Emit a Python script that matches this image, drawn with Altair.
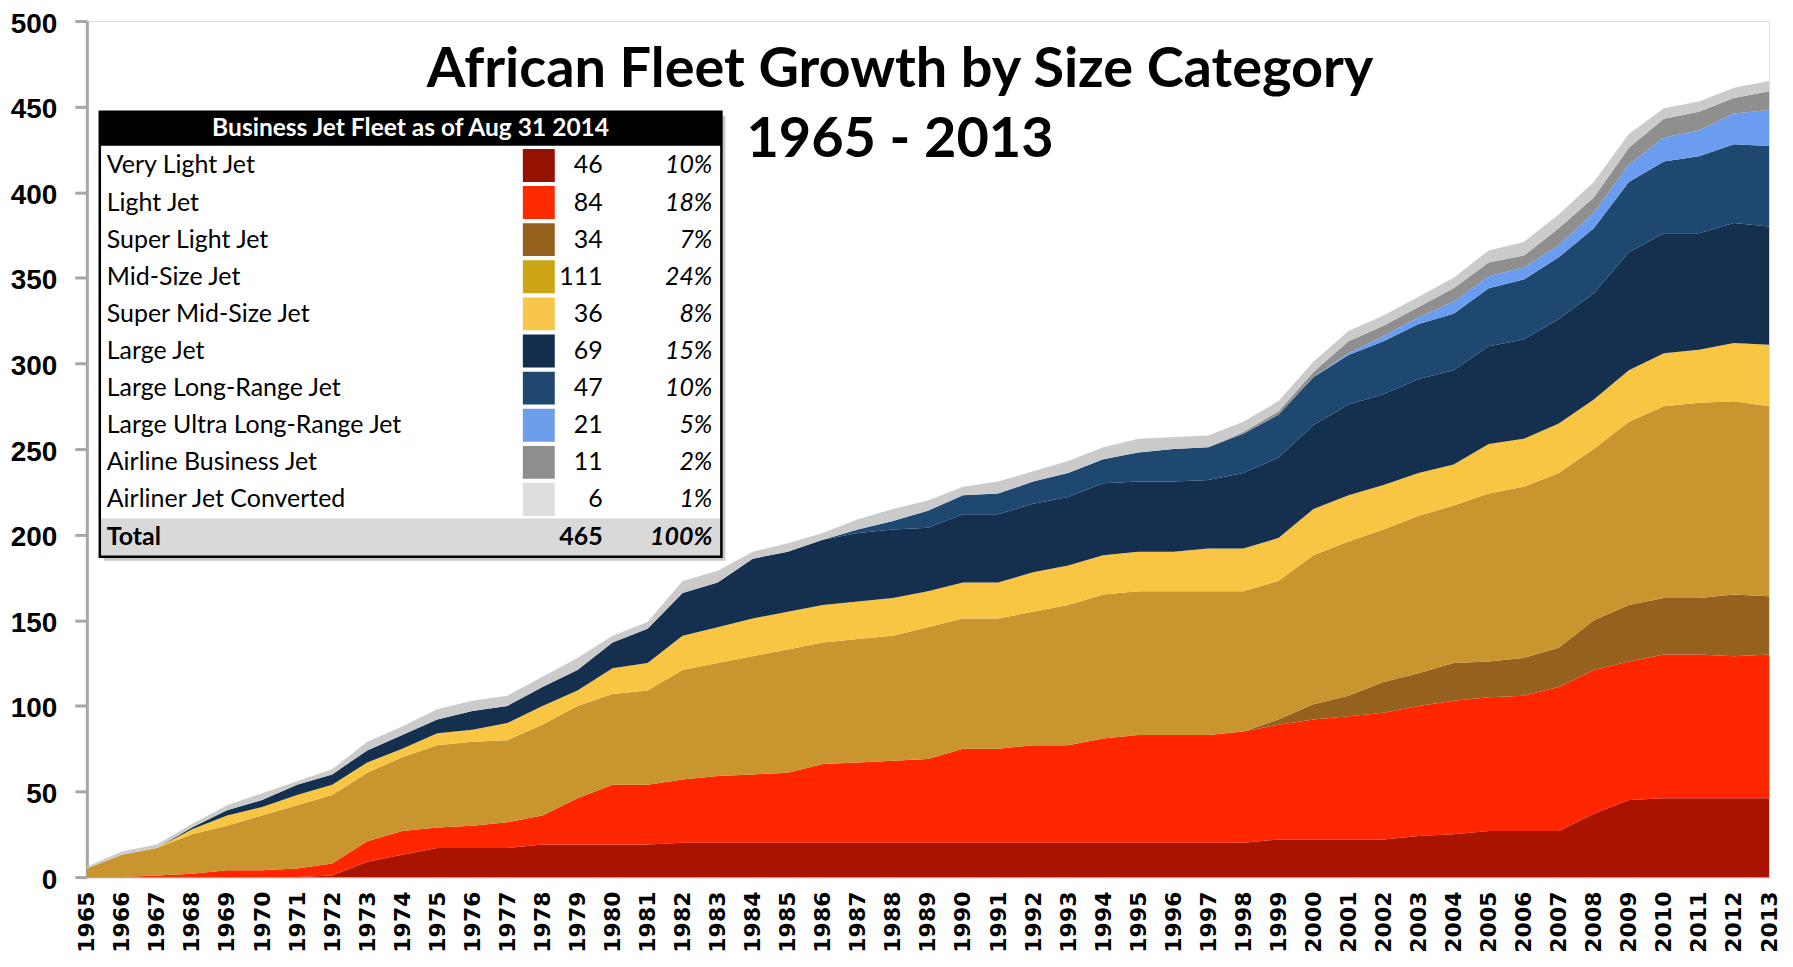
import altair as alt
import pandas as pd

years = list(range(1965, 2014))

series_names = [
    "Very Light Jet", "Light Jet", "Super Light Jet", "Mid-Size Jet",
    "Super Mid-Size Jet", "Large Jet", "Large Long-Range Jet",
    "Large Ultra Long-Range Jet", "Airline Business Jet", "Airliner Jet Converted",
]
area_colors = ["#A91400", "#FF2600", "#95611E", "#C9952F", "#F8C643",
               "#15304F", "#1F4870", "#6A9CF0", "#8F8F8F", "#CBCBCB"]
swatch_colors = ["#951200", "#FF2A00", "#95611E", "#CBA515", "#F8C64B",
                 "#142D4C", "#1F4770", "#6D9EEB", "#8E8E8E", "#DEDEDE"]

very_light = [0, 0, 0, 0, 0, 0, 0, 1, 9, 13, 17, 17, 17, 19, 19, 19, 19, 20, 20, 20,
              20, 20, 20, 20, 20, 20, 20, 20, 20, 20, 20, 20, 20, 20, 22, 22, 22, 22, 24, 25,
              27, 27, 27, 37, 45, 46, 46, 46, 46]
light = [0, 0, 1, 2, 4, 4, 5, 7, 12, 14, 12, 13, 15, 17, 27, 35, 35, 37, 39, 40,
         41, 46, 47, 48, 49, 55, 55, 57, 57, 61, 63, 63, 63, 65, 67, 70, 72, 74, 76, 78,
         78, 79, 84, 84, 81, 84, 84, 83, 84]
super_light = [0, 0, 0, 0, 0, 0, 0, 0, 0, 0, 0, 0, 0, 0, 0, 0, 0, 0, 0, 0,
               0, 0, 0, 0, 0, 0, 0, 0, 0, 0, 0, 0, 0, 0, 3, 9, 12, 18, 19, 22,
               21, 22, 23, 29, 33, 33, 33, 36, 34]
mid_size = [5, 13, 16, 23, 26, 32, 37, 40, 40, 43, 48, 49, 48, 53, 54, 53, 55, 64, 66, 69,
            72, 71, 72, 73, 77, 76, 76, 78, 82, 84, 84, 84, 84, 82, 81, 87, 90, 89, 92, 92,
            98, 100, 102, 100, 107, 112, 114, 113, 111]
super_mid = [0, 0, 0, 3, 6, 5, 6, 6, 6, 5, 7, 7, 10, 11, 9, 15, 16, 20, 21, 22,
             22, 22, 22, 22, 21, 21, 21, 23, 23, 23, 23, 23, 25, 25, 25, 27, 27, 26, 25, 24,
             29, 28, 29, 29, 30, 31, 31, 34, 36]
large = [0, 0, 0, 1, 3, 4, 6, 6, 7, 8, 8, 11, 10, 11, 12, 15, 20, 25, 26, 35,
         35, 38, 40, 40, 37, 40, 40, 40, 40, 42, 41, 41, 40, 44, 47, 49, 53, 53, 55, 55,
         57, 58, 61, 62, 69, 70, 68, 70, 69]
large_long = [0, 0, 0, 0, 0, 0, 0, 0, 0, 0, 0, 0, 0, 0, 0, 0, 0, 0, 0, 0,
              0, 0, 2, 5, 10, 11, 12, 13, 14, 14, 17, 19, 19, 23, 25, 28, 29, 31, 32, 33,
              34, 35, 36, 38, 41, 42, 45, 46, 47]
large_ultra = [0, 0, 0, 0, 0, 0, 0, 0, 0, 0, 0, 0, 0, 0, 0, 0, 0, 0, 0, 0,
               0, 0, 0, 0, 0, 0, 0, 0, 0, 0, 0, 0, 0, 0, 0, 0, 1, 3, 4, 7,
               7, 7, 7, 9, 10, 14, 15, 18, 21]
airline_bj = [0, 0, 0, 0, 0, 0, 0, 0, 0, 0, 0, 0, 0, 0, 0, 0, 0, 0, 0, 0,
              0, 0, 0, 0, 0, 0, 0, 0, 0, 0, 0, 0, 0, 1, 2, 3, 7, 6, 6, 8,
              8, 7, 10, 9, 10, 11, 11, 9, 11]
airliner_conv = [1, 2, 2, 2, 3, 4, 2, 3, 5, 5, 6, 6, 6, 6, 7, 4, 4, 7, 7, 4,
                 5, 4, 6, 7, 6, 5, 7, 6, 7, 7, 8, 7, 7, 6, 6, 6, 6, 6, 6, 6,
                 7, 8, 8, 9, 8, 6, 6, 6, 6]

table_counts = [46, 84, 34, 111, 36, 69, 47, 21, 11, 6]
table_pcts = ["10%", "18%", "7%", "24%", "8%", "15%", "10%", "5%", "2%", "1%"]
total_label = "Total"
total_count = "465"
total_pct = "100%"
table_header = "Business Jet Fleet as of Aug 31 2014"
title_line1 = "African Fleet Growth by Size Category"
title_line2 = "1965 - 2013"

all_series = [very_light, light, super_light, mid_size, super_mid, large,
              large_long, large_ultra, airline_bj, airliner_conv]

rows = []
for idx, (name, vals) in enumerate(zip(series_names, all_series)):
    for yr, v in zip(years, vals):
        rows.append({"year": yr, "series": name, "value": v, "idx": idx})
df = pd.DataFrame(rows)

W, H = 1686, 858
TOP = 12  # top padding; plot top at 8 + TOP on the page
dy = 12 - (8 + TOP)  # shift from reference page coords to local coords (y)

areas = alt.Chart(df).mark_area().encode(
    x=alt.X("year:Q", scale=alt.Scale(domain=[1965, 2013], nice=False, zero=False),
            axis=alt.Axis(values=years, format="d", labelAngle=270, labelAlign="right",
                          labelBaseline="middle", labelPadding=14, ticks=False,
                          domainColor="#A6A6A6", domainWidth=1.5, title=None,
                          labelFlush=False, labelOverlap=False, grid=False,
                          labelColor="black", labelFont="DejaVu Sans",
                          labelFontWeight="bold", labelFontSize=22)),
    y=alt.Y("value:Q", stack="zero", scale=alt.Scale(domain=[0, 500], nice=False),
            axis=alt.Axis(values=list(range(0, 501, 50)), labelFont="Liberation Sans",
                          labelFontWeight="bold", labelFontSize=28, labelPadding=18,
                          labelOffset=3,
                          tickSize=12, tickWidth=3, tickColor="#A6A6A6",
                          domainColor="#A6A6A6", domainWidth=3, grid=False,
                          title=None, labelColor="black")),
    color=alt.Color("series:N", scale=alt.Scale(domain=series_names, range=area_colors),
                    legend=None),
    order=alt.Order("idx:Q", sort="ascending"),
)

one = pd.DataFrame({"t": [title_line1], "t2": [title_line2], "h": [table_header]})

title1 = alt.Chart(one).mark_text(font="Lato", fontWeight="bold", fontSize=56,
                                  align="center", baseline="alphabetic", color="black").encode(
    text="t:N", x=alt.value(815), y=alt.value(74 + dy))
title2 = alt.Chart(one).mark_text(font="Lato", fontWeight="bold", fontSize=56,
                                  align="center", baseline="alphabetic", color="black").encode(
    text="t2:N", x=alt.value(815), y=alt.value(144 + dy))

# table geometry (pixels inside the plot area)
TL, TR, TT, TB = 13, 636, 99 + dy, 545 + dy
row0, pitch = 152.7 + dy, 37.2

shadow = alt.Chart(one).mark_rect(color="#C8C8C8").encode(
    x=alt.value(TL + 4), x2=alt.value(TR + 4), y=alt.value(TT + 4), y2=alt.value(TB + 4))
bg = alt.Chart(one).mark_rect(color="white").encode(
    x=alt.value(TL), x2=alt.value(TR), y=alt.value(TT), y2=alt.value(TB))
header_bar = alt.Chart(one).mark_rect(color="black").encode(
    x=alt.value(TL), x2=alt.value(TR), y=alt.value(TT), y2=alt.value(TT + 34))
total_bar = alt.Chart(one).mark_rect(color="#D9D9D9").encode(
    x=alt.value(TL), x2=alt.value(TR), y=alt.value(row0 + pitch * 10 - 18),
    y2=alt.value(TB))
header_text = alt.Chart(one).mark_text(font="Lato", fontWeight="bold", fontSize=24.6,
                                       color="white", align="center", baseline="middle").encode(
    text="h:N", x=alt.value((TL + TR) / 2), y=alt.value(TT + 17))

tdf = pd.DataFrame({
    "name": series_names,
    "count": table_counts,
    "pct": table_pcts,
    "color": swatch_colors,
    "row": list(range(10)),
})
tdf["yc"] = row0 + pitch * tdf["row"]
tdf["ytop"] = tdf["yc"] - 16.5
tdf["ybot"] = tdf["yc"] + 16.5

tbase = alt.Chart(tdf)
names = tbase.mark_text(font="Lato", fontSize=25, align="left", baseline="middle",
                        color="black").encode(
    text="name:N", x=alt.value(20), y=alt.Y("yc:Q", scale=None))
swatches = tbase.mark_rect().encode(
    x=alt.value(437), x2=alt.value(469),
    y=alt.Y("ytop:Q", scale=None), y2="ybot:Q",
    color=alt.Color("color:N", scale=None))
counts = tbase.mark_text(font="Lato", fontSize=25, align="right", baseline="middle",
                         color="black").encode(
    text="count:Q", x=alt.value(517), y=alt.Y("yc:Q", scale=None))
pcts = tbase.mark_text(font="Lato", fontSize=25, fontStyle="italic", align="right",
                       baseline="middle", color="black").encode(
    text="pct:N", x=alt.value(627), y=alt.Y("yc:Q", scale=None))

totdf = pd.DataFrame({"a": [total_label], "b": [total_count], "c": [total_pct]})
ty = row0 + pitch * 10
tot_a = alt.Chart(totdf).mark_text(font="Lato", fontWeight="bold", fontSize=25,
                                   align="left", baseline="middle", color="black").encode(
    text="a:N", x=alt.value(20), y=alt.value(ty))
tot_b = alt.Chart(totdf).mark_text(font="Lato", fontWeight="bold", fontSize=25,
                                   align="right", baseline="middle", color="black").encode(
    text="b:N", x=alt.value(517), y=alt.value(ty))
tot_c = alt.Chart(totdf).mark_text(font="Lato", fontWeight="bold", fontStyle="italic",
                                   fontSize=25, align="right", baseline="middle",
                                   color="black").encode(
    text="c:N", x=alt.value(627), y=alt.value(ty))
border = alt.Chart(one).mark_rect(fillOpacity=0, stroke="black", strokeWidth=2.5).encode(
    x=alt.value(TL), x2=alt.value(TR), y=alt.value(TT), y2=alt.value(TB))

chart = alt.layer(
    areas, title1, title2, shadow, bg, header_bar, total_bar, header_text,
    names, swatches, counts, pcts, tot_a, tot_b, tot_c, border,
).properties(
    width=W, height=H,
    padding={"left": 79, "top": TOP, "right": 16, "bottom": 80},
    autosize="none",
).configure_view(stroke=None).configure(background="white")

chart.save("out.html", embed_options={"renderer": "svg", "actions": False})
